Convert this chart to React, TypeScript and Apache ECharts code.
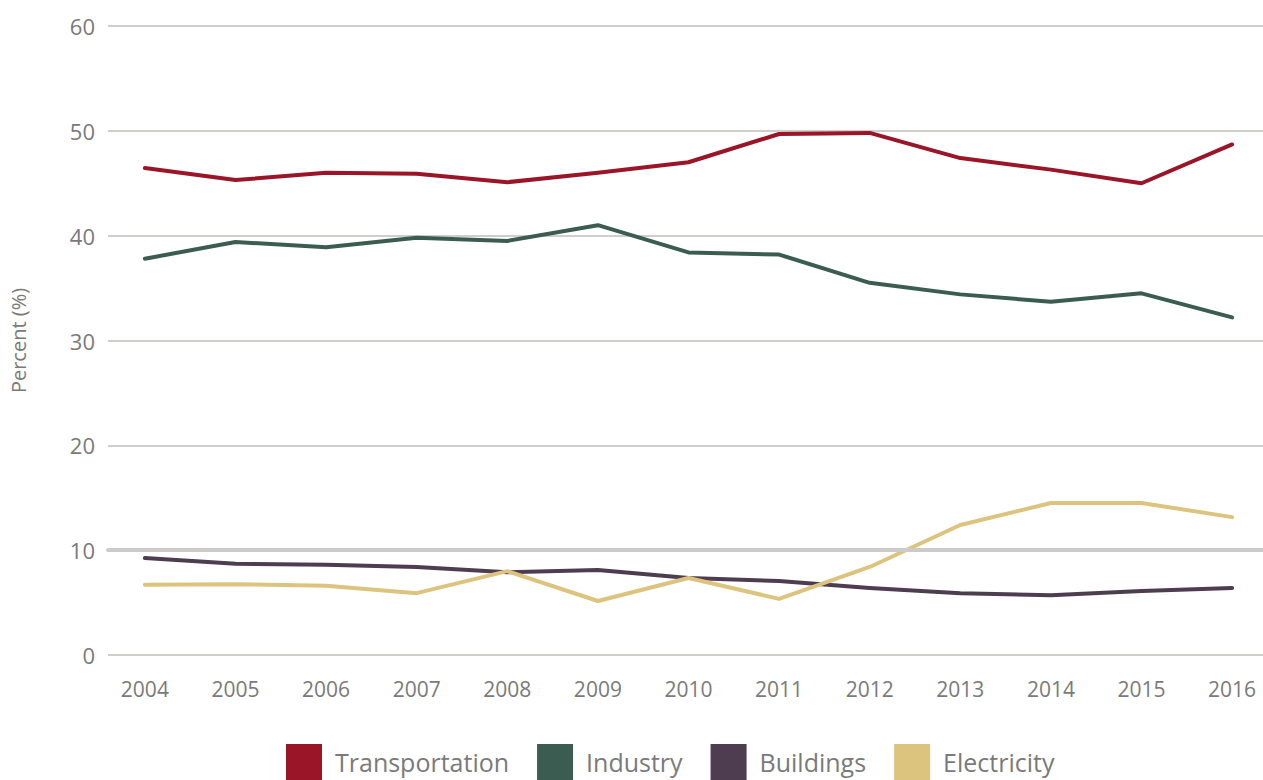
import React, { useEffect, useRef } from "react";
import * as echarts from "echarts";

const years = [2004, 2005, 2006, 2007, 2008, 2009, 2010, 2011, 2012, 2013, 2014, 2015, 2016];
const transportation = [46.45, 45.3, 46.0, 45.9, 45.1, 46.0, 47.0, 49.7, 49.8, 47.4, 46.3, 45.0, 48.7];
const industry = [37.8, 39.4, 38.9, 39.8, 39.5, 41.0, 38.4, 38.2, 35.5, 34.4, 33.7, 34.5, 32.2];
const buildings = [9.25, 8.7, 8.6, 8.4, 7.9, 8.1, 7.35, 7.05, 6.4, 5.9, 5.7, 6.1, 6.4];
const electricity = [6.7, 6.75, 6.6, 5.9, 8.0, 5.15, 7.35, 5.35, 8.4, 12.4, 14.5, 14.5, 13.15];
const seriesNames = ["Transportation", "Industry", "Buildings", "Electricity"];
const seriesColors = ["#9a1528", "#3b5c51", "#4e3d50", "#dcc47f"];
const yTicks = [0, 10, 20, 30, 40, 50, 60];

const FONT = "'Open Sans', Lato, sans-serif";
const TEXT = "#7a7a7a";

export default function App() {
  const ref = useRef<HTMLDivElement>(null);
  useEffect(() => {
    if (!ref.current) return;
    const chart = echarts.init(ref.current, undefined, { renderer: "svg" });
    const all = [transportation, industry, buildings, electricity];
    chart.setOption({
      animation: false,
      grid: { left: 103, right: 0, top: 26, bottom: 125 },
      xAxis: {
        type: "value",
        min: 2003.593,
        max: 2016.341,
        axisLine: { show: false },
        axisTick: { show: false },
        splitLine: { show: false },
        axisLabel: {
          customValues: years,
          formatter: (v: number) => String(Math.round(v)),
          color: TEXT,
          fontFamily: FONT,
          fontSize: 21,
          margin: 23,
        },
      },
      yAxis: {
        type: "value",
        min: yTicks[0],
        max: yTicks[yTicks.length - 1],
        interval: 10,
        name: "Percent (%)",
        nameLocation: "middle",
        nameGap: 80,
        nameTextStyle: { color: TEXT, fontFamily: FONT, fontSize: 20 },
        axisLine: { show: false },
        axisTick: { show: false },
        axisLabel: { color: TEXT, fontFamily: FONT, fontSize: 22, margin: 13 },
        splitLine: { lineStyle: { color: "#d0cec9", width: 2 } },
      },
      legend: {
        top: 744,
        left: 286,
        padding: 0,
        itemWidth: 36,
        itemHeight: 36,
        itemGap: 28,
        icon: "rect",
        data: seriesNames,
        textStyle: { color: TEXT, fontFamily: FONT, fontSize: 25, padding: [0, 0, 0, 8] },
      },
      series: [
        {
          type: "line",
          name: "_ref",
          data: [],
          z: 1,
          silent: true,
          markLine: {
            silent: true,
            symbol: "none",
            label: { show: false },
            lineStyle: { color: "#cdcbc7", width: 4, type: "solid", cap: "round" },
            data: [{ yAxis: 10 }],
          },
        },
        ...seriesNames.map((n, i) => ({
          type: "line",
          name: n,
          z: 3,
          data: years.map((y, j) => [y, all[i][j]]),
          showSymbol: false,
          symbol: "none",
          color: seriesColors[i],
          lineStyle: { color: seriesColors[i], width: 4, cap: "round", join: "round" },
        })),
      ],
    });
    return () => chart.dispose();
  }, []);
  return (
    <div
      ref={ref}
      style={{ position: "absolute", left: 0, top: 0, width: 1263, height: 780, background: "#fff" }}
    />
  );
}
